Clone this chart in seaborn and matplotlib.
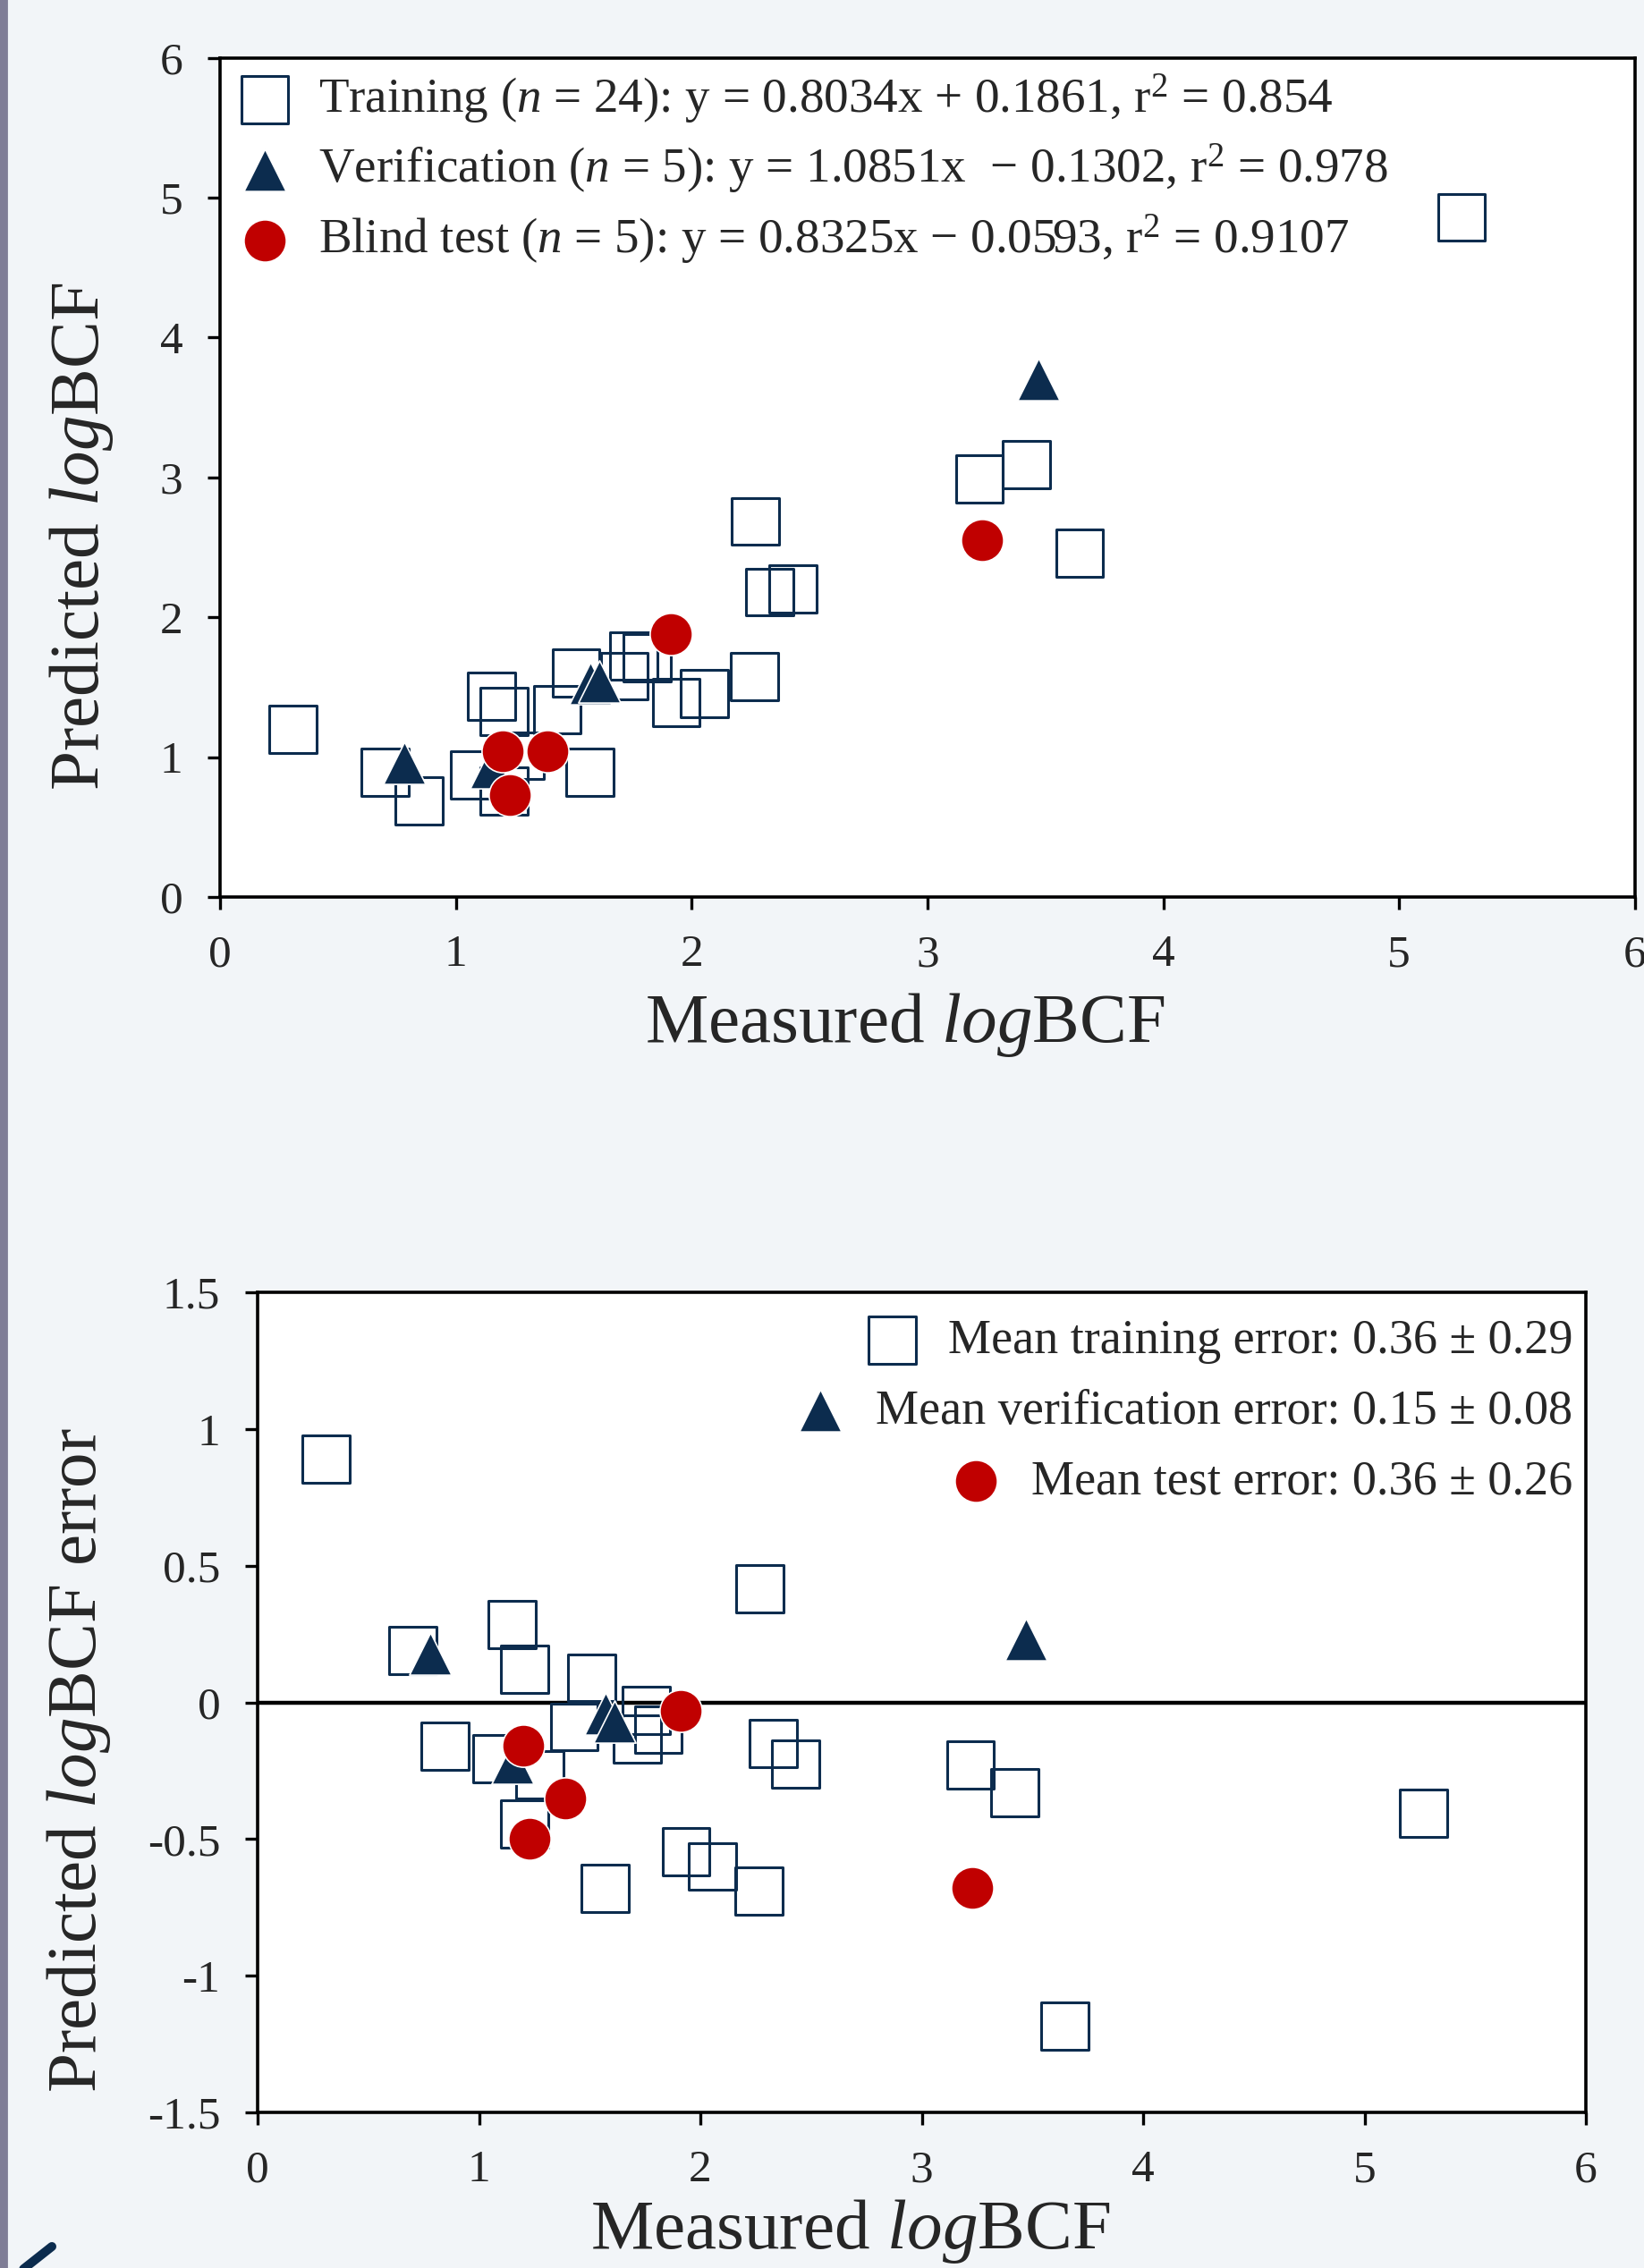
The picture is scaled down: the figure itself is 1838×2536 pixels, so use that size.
import numpy as np
import pandas as pd
import matplotlib.pyplot as plt
import seaborn as sns
from matplotlib.lines import Line2D
from matplotlib.patches import Rectangle

# Values
train_measured = [0.31, 0.70, 0.845, 1.15, 1.205, 1.08, 1.205, 1.275, 1.43, 1.51, 1.57, 1.755,
                  1.715, 1.81, 1.935, 2.055, 2.265, 2.27, 2.33, 2.43, 3.22, 3.42, 3.645, 5.265]
train_predicted = [1.20, 0.89, 0.685, 1.435, 1.325, 0.875, 0.76, 1.01, 1.34, 1.60, 0.89, 1.725,
                   1.58, 1.71, 1.39, 1.455, 1.575, 2.685, 2.18, 2.205, 2.99, 3.09, 2.46, 4.86]
verif_measured = [0.78, 1.15, 1.57, 1.61, 3.47]
verif_predicted = [0.96, 0.93, 1.53, 1.54, 3.70]
test_measured = [1.20, 1.39, 1.23, 1.91, 3.23]
test_predicted = [1.04, 1.04, 0.73, 1.88, 2.55]

top_labels = [
    r"Training ($n$ = $\mathit{24}$): y = 0.8034x + 0.1861, r$^2$ = 0.854",
    r"Verification ($n$ = $\mathit{5}$): y = 1.0851x  $-$ 0.1302, r$^2$ = 0.978",
    r"Blind test ($n$ = $\mathit{5}$): y = 0.8325x $-$ 0.0593, r$^2$ = 0.9107",
]
bottom_labels = [
    "Mean training error: 0.36 \u00b1 0.29",
    "Mean verification error: 0.15 \u00b1 0.08",
    "Mean test error: 0.36 \u00b1 0.26",
]
top_ticks = [0, 1, 2, 3, 4, 5, 6]
err_ticks = [-1.5, -1, -0.5, 0, 0.5, 1, 1.5]
err_tick_labels = ["-1.5", "-1", "-0.5", "0", "0.5", "1", "1.5"]

NAVY = "#0C2C4E"
RED = "#C00000"
BG = "#F2F5F8"

df = pd.concat([
    pd.DataFrame({"measured": train_measured, "predicted": train_predicted, "set": "train"}),
    pd.DataFrame({"measured": verif_measured, "predicted": verif_predicted, "set": "verif"}),
    pd.DataFrame({"measured": test_measured, "predicted": test_predicted, "set": "test"}),
], ignore_index=True)
df["error"] = df["predicted"] - df["measured"]

sns.set_style("ticks")
plt.rcParams["font.family"] = ["Liberation Serif", "DejaVu Serif"]
plt.rcParams["mathtext.fontset"] = "custom"
plt.rcParams["mathtext.rm"] = "Liberation Serif"
plt.rcParams["mathtext.it"] = "Liberation Serif:italic"
plt.rcParams["mathtext.bf"] = "Liberation Serif:bold"
plt.rcParams["axes.unicode_minus"] = False

styles = {
    "train": dict(marker="s", s=19 ** 2, facecolor="none", edgecolor=NAVY, linewidth=1.1),
    "verif": dict(marker="^", s=17 ** 2, color=NAVY, edgecolor="white", linewidth=0.6),
    "test": dict(marker="o", s=17 ** 2, color=RED, edgecolor="white", linewidth=0.6),
}

fig = plt.figure(figsize=(9.19, 12.68), dpi=200, facecolor=BG)
ax1 = fig.add_axes([0.1338, 0.6045, 0.8607, 0.370])
ax2 = fig.add_axes([0.1567, 0.0686, 0.808, 0.3616])


def draw(ax, ycol, labels):
    for key, lab in zip(["train", "verif", "test"], labels):
        sub = df[df["set"] == key]
        sns.scatterplot(data=sub, x="measured", y=ycol, ax=ax, label=lab, zorder=3, **styles[key])
    ax.set_facecolor("white")
    for side in ["left", "right", "top", "bottom"]:
        ax.spines[side].set_visible(True)
        ax.spines[side].set_linewidth(1.3)
        ax.spines[side].set_color("black")
    ax.tick_params(direction="out", length=5, width=1.2, labelsize=18.5, pad=10, color="black")


draw(ax1, "predicted", top_labels)
ax1.set_xlim(0, 6)
ax1.set_ylim(0, 6)
ax1.set_xticks(top_ticks)
ax1.set_yticks(top_ticks)
ax1.set_xlabel("Measured $log$BCF", fontsize=28.5)
ax1.set_ylabel("Predicted $log$BCF", fontsize=28.5)
ax1.xaxis.set_label_coords(0.484, -0.112)
ax1.yaxis.set_label_coords(-0.074, 0.43)
ax1.legend(loc="upper left", bbox_to_anchor=(0.009, 0.983), frameon=False, fontsize=19.8,
           borderpad=0, borderaxespad=0, handlelength=1.3, handletextpad=0.45,
           labelspacing=0.33)

draw(ax2, "error", bottom_labels)
ax2.axhline(0, color="black", linewidth=1.6, zorder=2)
ax2.set_xlim(0, 6)
ax2.set_ylim(-1.5, 1.5)
ax2.set_xticks(top_ticks)
ax2.set_yticks(err_ticks, labels=err_tick_labels)
ax2.set_xlabel("Measured $log$BCF", fontsize=28.5)
ax2.set_ylabel("Predicted $log$BCF error", fontsize=28.5)
ax2.xaxis.set_label_coords(0.446, -0.104)
ax2.yaxis.set_label_coords(-0.109, 0.43)
leg2 = ax2.legend(loc="upper right", bbox_to_anchor=(0.99, 0.968), frameon=False, fontsize=19.5,
                  borderpad=0, borderaxespad=0, handlelength=1.3, handletextpad=0.5,
                  labelspacing=0.52)
# rows in the reference are right-aligned as whole units (marker + text)
for col in leg2._legend_handle_box.get_children():
    col.align = "right"

# page decorations around the figure
fig.patches.append(Rectangle((0, 0), 7 / 1838, 1, transform=fig.transFigure,
                             color="#7F7D96", zorder=0))
fig.lines.append(Line2D([18 / 1838, 58 / 1838], [-0.003, 1 - 2512 / 2536],
                        transform=fig.transFigure, color=NAVY, linewidth=3.6))

fig.savefig("out.png", dpi=200, facecolor=BG)
